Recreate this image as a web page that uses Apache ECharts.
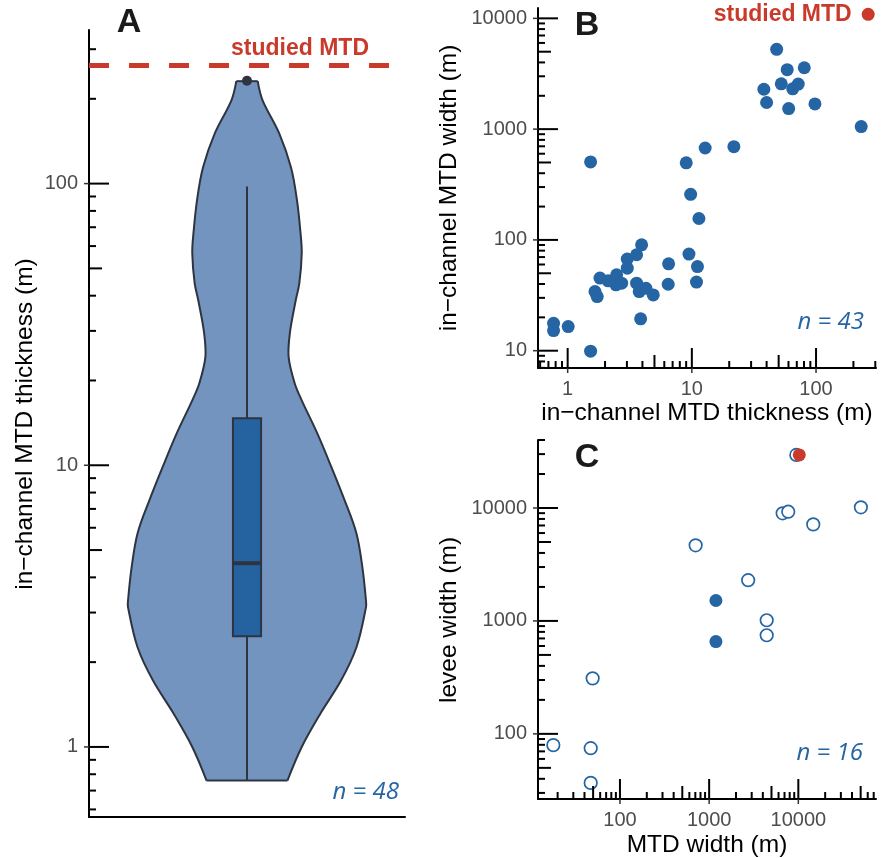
<!DOCTYPE html>
<html>
<head>
<meta charset="utf-8">
<title>In-channel MTD thickness and width</title>
<script src="https://cdn.jsdelivr.net/npm/echarts@6/dist/echarts.min.js"></script>
<style>
  html, body { margin: 0; padding: 0; background: #fff; }
  #chart { width: 892px; height: 858px; }
</style>
</head>
<body>
<div id="chart"></div>
<script>
// ---- A: violin of in-channel MTD thickness (m), n = 48
const violinThickness = [0.76, 1.0, 1.32, 1.72, 2.26, 3.13, 3.31, 4.34, 5.73, 7.52, 9.84, 13.0, 17.0, 19.6,
  24.2, 29.4, 38.6, 44.3, 56.6, 66.7, 87.3, 114, 151, 198, 231];
const violinDensity = [0.34, 0.46, 0.62, 0.79, 0.92, 1.0, 1.0, 0.97, 0.92, 0.82, 0.71, 0.59, 0.46, 0.40,
  0.35, 0.36, 0.41, 0.44, 0.46, 0.45, 0.42, 0.37, 0.27, 0.13, 0.09];
const boxStats = [0.76, 2.47, 4.49, 14.7, 97.6]; // lower whisker, Q1, median, Q3, upper whisker
const outliers = [231.7];
const studiedThickness = 263;

// ---- B: in-channel MTD thickness vs width (m), n = 43
const bThickness = [0.77, 0.77, 1.01, 1.53, 1.53, 1.66, 1.73, 1.82, 2.12, 2.48, 2.45, 2.72, 3.02, 3.02,
  3.59, 3.94, 3.59, 3.77, 4.27, 4.89, 3.87, 6.5, 6.45, 9.48, 11.1, 10.9, 9.01, 9.78, 11.4, 12.8, 21.8,
  38.0, 40.0, 48.2, 52.5, 58.6, 60.2, 64.9, 71.9, 80.4, 98.0, 231];
const bWidth = [17.7, 15.2, 16.5, 9.9, 506, 34.2, 30.8, 45.2, 42.7, 48.4, 39.3, 40.7, 67.1, 55.6,
  73.5, 90.3, 40.7, 34.2, 36.6, 31.9, 19.4, 60.8, 39.8, 74.5, 57.5, 41.6, 496, 258, 156, 676, 695,
  2290, 1740, 5250, 2565, 3440, 1534, 2313, 2550, 3580, 1690, 1055];
const studiedChannelWidth = 10870;

// ---- C: MTD width vs levee width (m), n = 16
const cOpenMtdWidth = [9500, 50300, 6670, 7710, 14700, 706, 2740, 4420, 4420, 49.4, 17.9, 47.0, 47.0];
const cOpenLevee = [29500, 10140, 8970, 9270, 7160, 4670, 2296, 1014, 747, 310, 79.5, 74.7, 36.8];
const cFilledMtdWidth = [1191, 1191];
const cFilledLevee = [1517, 656];
const studiedMtdWidth = 10250;
const studiedLevee = 29500;

// axis labels
const aTickLabels = [1, 10, 100];
const bxTickLabels = [1, 10, 100];
const byTickLabels = [10, 100, 1000, 10000];
const cxTickLabels = [100, 1000, 10000];
const cyTickLabels = [100, 1000, 10000];

const FONT = '"Liberation Sans", Arial, sans-serif';
const BLUE = '#2565a4';
const RED = '#c93a2b';
const INK = '#2e3440';
const VIOLIN_HALF = 0.753;
const BOX_HALF = 0.089;

const chart = echarts.init(document.getElementById('chart'));

function logTicks(min, max) {
  const out = [];
  for (let k = Math.floor(Math.log10(min)); k <= Math.ceil(Math.log10(max)); k++) {
    for (let m = 1; m <= 9; m++) {
      const v = m * Math.pow(10, k);
      if (v >= min * 0.999 && v <= max * 1.001) out.push(v);
    }
  }
  return out;
}
function tickLen(v) {
  const m = Math.round(v / Math.pow(10, Math.floor(Math.log10(v) + 1e-9)));
  return m === 1 ? 20 : (m === 5 ? 13 : 7);
}
function labelFmt(majors) {
  return function (v) {
    const hit = majors.find(m => Math.abs(m - v) / m < 1e-6);
    return hit === undefined ? '' : String(hit);
  };
}
function logAxis(grid, min, max, majors) {
  return {
    gridIndex: grid, type: 'log', logBase: 10, min: min, max: max,
    axisLine: { onZero: false, lineStyle: { color: '#000', width: 2 } },
    axisTick: { show: false },
    splitLine: { show: false },
    minorTick: { show: false },
    axisLabel: { color: '#4d4d4d', fontSize: 20, fontFamily: FONT, margin: 11,
      showMinLabel: false, showMaxLabel: false, formatter: labelFmt(majors) }
  };
}
// annotation-style log ticks drawn inside the panel
function yTicks(xi, yi, xMin, yMin, yMax) {
  return {
    type: 'custom', xAxisIndex: xi, yAxisIndex: yi, silent: true, z: 5,
    data: logTicks(yMin, yMax).map(v => [xMin, v]),
    renderItem: function (params, api) {
      const v = api.value(1);
      const p = api.coord([api.value(0), v]);
      const len = tickLen(v);
      const kids = [{ type: 'line', shape: { x1: p[0], y1: p[1], x2: p[0] + len, y2: p[1] },
        style: { stroke: '#000', lineWidth: 2 } }];
      if (len === 20) kids.push({ type: 'line', shape: { x1: p[0] - 5, y1: p[1], x2: p[0], y2: p[1] },
        style: { stroke: '#333', lineWidth: 1.5 } });
      return { type: 'group', children: kids };
    }
  };
}
function xTicks(xi, yi, yMin, xMin, xMax) {
  return {
    type: 'custom', xAxisIndex: xi, yAxisIndex: yi, silent: true, z: 5,
    data: logTicks(xMin, xMax).map(v => [v, yMin]),
    renderItem: function (params, api) {
      const v = api.value(0);
      const p = api.coord([v, api.value(1)]);
      const len = tickLen(v);
      const kids = [{ type: 'line', shape: { x1: p[0], y1: p[1], x2: p[0], y2: p[1] - len },
        style: { stroke: '#000', lineWidth: 2 } }];
      if (len === 20) kids.push({ type: 'line', shape: { x1: p[0], y1: p[1], x2: p[0], y2: p[1] + 5 },
        style: { stroke: '#333', lineWidth: 1.5 } });
      return { type: 'group', children: kids };
    }
  };
}
function title(text, x, y, vertical) {
  return { type: 'text', x: x, y: y, rotation: vertical ? Math.PI / 2 : 0, silent: true,
    style: { text: text, fill: '#000', font: '24.5px ' + FONT, textAlign: 'center', textVerticalAlign: 'middle' } };
}
function panelTag(text, x, y) {
  return { type: 'text', x: x, y: y, silent: true,
    style: { text: text, fill: '#1a1a1a', font: 'bold 34px ' + FONT, textAlign: 'center', textVerticalAlign: 'middle' } };
}
function nLabel(text, x, y) {
  return { type: 'text', x: x, y: y, silent: true,
    style: { text: text, fill: BLUE, font: 'italic 24px "Open Sans", ' + FONT, textAlign: 'right', textVerticalAlign: 'middle' } };
}

const A_RANGE = [0.564, 351], BX_RANGE = [0.577, 304], BY_RANGE = [6.98, 12400];
const CX_RANGE = [12.05, 74300], CY_RANGE = [26.5, 40000];

chart.setOption({
  animation: false,
  backgroundColor: '#fff',
  grid: [
    { left: 89, top: 30, width: 316, height: 787 },
    { left: 538, top: 8, width: 338, height: 360 },
    { left: 538, top: 440, width: 338, height: 359 }
  ],
  xAxis: [
    { gridIndex: 0, type: 'value', min: -1, max: 1,
      axisLine: { onZero: false, lineStyle: { color: '#000', width: 2 } },
      axisTick: { show: false }, axisLabel: { show: false }, splitLine: { show: false } },
    logAxis(1, BX_RANGE[0], BX_RANGE[1], bxTickLabels),
    logAxis(2, CX_RANGE[0], CX_RANGE[1], cxTickLabels)
  ],
  yAxis: [
    logAxis(0, A_RANGE[0], A_RANGE[1], aTickLabels),
    logAxis(1, BY_RANGE[0], BY_RANGE[1], byTickLabels),
    logAxis(2, CY_RANGE[0], CY_RANGE[1], cyTickLabels)
  ],
  graphic: [
    panelTag('A', 129, 23),
    panelTag('B', 587, 26),
    panelTag('C', 587, 458),
    { type: 'text', x: 300, y: 49, silent: true,
      style: { text: 'studied MTD', fill: RED, font: 'bold 23px ' + FONT, textAlign: 'center', textVerticalAlign: 'middle' } },
    title('in\u2212channel MTD thickness (m)', 25, 424, true),
    title('in\u2212channel MTD width (m)', 449, 188, true),
    title('in\u2212channel MTD thickness (m)', 707, 413, false),
    title('levee width (m)', 449, 620, true),
    title('MTD width (m)', 707, 845, false),
    nLabel('n = 48', 399, 792),
    nLabel('n = 43', 864, 322),
    nLabel('n = 16', 863, 753)
  ],
  series: [
    // A: violin (filled body, smoothed outline on each side, flat ends)
    {
      type: 'custom', xAxisIndex: 0, yAxisIndex: 0, silent: true, z: 2,
      data: [[0, 1]],
      renderItem: function (params, api) {
        const right = [], left = [];
        violinThickness.forEach(function (t, i) {
          const w = violinDensity[i] * VIOLIN_HALF;
          right.push(api.coord([w, t]));
          left.push(api.coord([-w, t]));
        });
        const edge = { stroke: INK, lineWidth: 2, fill: null };
        const n = right.length - 1;
        return { type: 'group', children: [
          { type: 'polygon', shape: { points: right.concat(left.slice().reverse()) },
            style: { fill: '#7394be', stroke: null } },
          { type: 'polyline', shape: { points: right, smooth: 0.35 }, style: { fill: '#7394be', stroke: null } },
          { type: 'polyline', shape: { points: left, smooth: 0.35 }, style: { fill: '#7394be', stroke: null } },
          { type: 'polyline', shape: { points: right, smooth: 0.35 }, style: edge },
          { type: 'polyline', shape: { points: left, smooth: 0.35 }, style: edge },
          { type: 'line', shape: { x1: left[0][0], y1: left[0][1], x2: right[0][0], y2: right[0][1] }, style: edge },
          { type: 'line', shape: { x1: left[n][0], y1: left[n][1], x2: right[n][0], y2: right[n][1] }, style: edge }
        ] };
      }
    },
    // A: box plot
    {
      type: 'custom', xAxisIndex: 0, yAxisIndex: 0, silent: true, z: 3,
      data: [[0, boxStats[2]]],
      renderItem: function (params, api) {
        const top = api.coord([0, boxStats[4]]), bot = api.coord([0, boxStats[0]]);
        const a = api.coord([-BOX_HALF, boxStats[3]]), b = api.coord([BOX_HALF, boxStats[1]]);
        const m1 = api.coord([-BOX_HALF, boxStats[2]]), m2 = api.coord([BOX_HALF, boxStats[2]]);
        return { type: 'group', children: [
          { type: 'line', shape: { x1: top[0], y1: top[1], x2: bot[0], y2: bot[1] }, style: { stroke: INK, lineWidth: 2 } },
          { type: 'rect', shape: { x: a[0], y: a[1], width: b[0] - a[0], height: b[1] - a[1] },
            style: { fill: '#2563a0', stroke: INK, lineWidth: 2 } },
          { type: 'line', shape: { x1: m1[0], y1: m1[1], x2: m2[0], y2: m2[1] }, style: { stroke: INK, lineWidth: 4 } }
        ] };
      }
    },
    // A: outlier + studied MTD line
    {
      type: 'scatter', xAxisIndex: 0, yAxisIndex: 0, z: 4, clip: false, silent: true,
      data: outliers.map(v => [0, v]), symbolSize: 10, itemStyle: { color: INK, opacity: 1 },
      markLine: { silent: true, symbol: 'none', label: { show: false },
        lineStyle: { color: RED, width: 5, type: [20, 20], opacity: 1 },
        data: [{ yAxis: studiedThickness }] }
    },
    yTicks(0, 0, -1, A_RANGE[0], A_RANGE[1]),
    // B
    {
      type: 'scatter', xAxisIndex: 1, yAxisIndex: 1, clip: false, silent: true,
      data: bThickness.map((t, i) => [t, bWidth[i]]), symbolSize: 13, itemStyle: { color: BLUE, opacity: 1 }
    },
    {
      type: 'scatter', xAxisIndex: 1, yAxisIndex: 1, clip: false, silent: true,
      data: [[studiedThickness, studiedChannelWidth]], symbolSize: 13, itemStyle: { color: RED, opacity: 1 },
      label: { show: true, position: 'left', distance: 10, formatter: 'studied MTD',
        color: RED, fontWeight: 'bold', fontSize: 23, fontFamily: FONT }
    },
    yTicks(1, 1, BX_RANGE[0], BY_RANGE[0], BY_RANGE[1]),
    xTicks(1, 1, BY_RANGE[0], BX_RANGE[0], BX_RANGE[1]),
    // C
    {
      type: 'scatter', xAxisIndex: 2, yAxisIndex: 2, clip: false, silent: true,
      data: cOpenMtdWidth.map((w, i) => [w, cOpenLevee[i]]), symbolSize: 12.5,
      itemStyle: { color: '#fff', borderColor: BLUE, borderWidth: 1.7, opacity: 1 }
    },
    {
      type: 'scatter', xAxisIndex: 2, yAxisIndex: 2, clip: false, silent: true,
      data: cFilledMtdWidth.map((w, i) => [w, cFilledLevee[i]]), symbolSize: 13, itemStyle: { color: BLUE, opacity: 1 }
    },
    {
      type: 'scatter', xAxisIndex: 2, yAxisIndex: 2, clip: false, silent: true,
      data: [[studiedMtdWidth, studiedLevee]], symbolSize: 13, itemStyle: { color: RED, opacity: 1 }
    },
    yTicks(2, 2, CX_RANGE[0], CY_RANGE[0], CY_RANGE[1]),
    xTicks(2, 2, CY_RANGE[0], CX_RANGE[0], CX_RANGE[1])
  ]
});
</script>
</body>
</html>
